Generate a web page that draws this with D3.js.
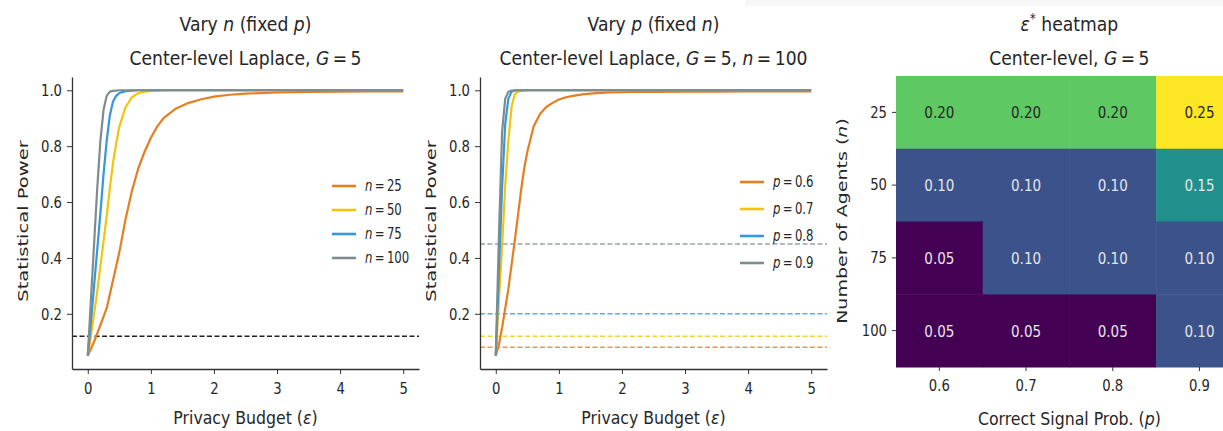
<!DOCTYPE html>
<html>
<head>
<meta charset="utf-8">
<script src="https://cdn.jsdelivr.net/npm/d3@7"></script>
<style>
  body { margin: 0; background: #fff; }
  text { font-family: "DejaVu Sans", sans-serif; fill: #262626; }
  .axis path, .axis line { stroke: #333; }
</style>
</head>
<body>
<div id="container"></div>
<script>
// epsilon grid shared by every curve
const eps = [0, 0.05, 0.1, 0.15, 0.2, 0.25, 0.3, 0.35, 0.4, 0.45, 0.5, 0.6, 0.7,
  0.8, 0.9, 1.0, 1.1, 1.2, 1.4, 1.6, 1.8, 2.0, 2.25, 2.5, 3.0, 3.5, 4.0, 4.5, 5.0];

// left panel: vary n
const nLabels = ['25', '50', '75', '100'];
const powerN25 = [0.05, 0.075, 0.10, 0.13, 0.16, 0.19, 0.22, 0.27, 0.32, 0.37, 0.42, 0.54, 0.64,
  0.72, 0.78, 0.83, 0.87, 0.90, 0.935, 0.955, 0.968, 0.977, 0.984, 0.988, 0.992, 0.994, 0.995, 0.996, 0.996];
const powerN50 = [0.05, 0.12, 0.20, 0.28, 0.37, 0.46, 0.55, 0.65, 0.74, 0.81, 0.87, 0.94, 0.975,
  0.99, 0.995, 0.998, 0.999, 1, 1, 1, 1, 1, 1, 1, 1, 1, 1, 1, 1];
const powerN75 = [0.05, 0.17, 0.30, 0.43, 0.56, 0.70, 0.82, 0.91, 0.96, 0.98, 0.99, 0.997, 0.999,
  1, 1, 1, 1, 1, 1, 1, 1, 1, 1, 1, 1, 1, 1, 1, 1];
const powerN100 = [0.05, 0.25, 0.45, 0.65, 0.82, 0.93, 0.98, 0.995, 0.998, 0.999, 1, 1, 1,
  1, 1, 1, 1, 1, 1, 1, 1, 1, 1, 1, 1, 1, 1, 1, 1];
const baselineN = 0.12;

// middle panel: vary p
const pLabels = ['0.6', '0.7', '0.8', '0.9'];
const powerP06 = [0.05, 0.09, 0.15, 0.22, 0.29, 0.375, 0.46, 0.55, 0.64, 0.72, 0.78, 0.87, 0.915,
  0.94, 0.955, 0.967, 0.974, 0.979, 0.986, 0.99, 0.992, 0.993, 0.994, 0.994, 0.995, 0.995, 0.996, 0.996, 0.996];
const powerP07 = [0.05, 0.25, 0.44, 0.66, 0.82, 0.94, 0.985, 0.995, 0.998, 0.999, 1, 1, 1,
  1, 1, 1, 1, 1, 1, 1, 1, 1, 1, 1, 1, 1, 1, 1, 1];
const powerP08 = [0.05, 0.35, 0.65, 0.88, 0.97, 0.995, 0.999, 1, 1, 1, 1, 1, 1,
  1, 1, 1, 1, 1, 1, 1, 1, 1, 1, 1, 1, 1, 1, 1, 1];
const powerP09 = [0.05, 0.48, 0.85, 0.97, 0.995, 0.999, 1, 1, 1, 1, 1, 1, 1,
  1, 1, 1, 1, 1, 1, 1, 1, 1, 1, 1, 1, 1, 1, 1, 1];
const baselineP = [0.08, 0.12, 0.20, 0.45];

// heatmap: rows n, columns p
const heatRows = ['25', '50', '75', '100'];
const heatCols = ['0.6', '0.7', '0.8', '0.9'];
const heatValues = [
  [0.20, 0.20, 0.20, 0.25],
  [0.10, 0.10, 0.10, 0.15],
  [0.05, 0.10, 0.10, 0.10],
  [0.05, 0.05, 0.05, 0.10],
];

const xTicks = [0, 1, 2, 3, 4, 5];
const yTicks = [0.2, 0.4, 0.6, 0.8, 1.0];
const colors = ['#e67e22', '#f1c40f', '#3498db', '#7f8c8d'];

const W = 1223, H = 431;
const SX = 0.82; // glyphs in the picture are narrower than they are tall
const TICK_SIZE = 16.5, TICK_SX = 0.8;

const svg = d3.select('#container').append('svg')
  .attr('width', W).attr('height', H);

svg.append('rect').attr('x', 745).attr('y', 0).attr('width', W - 745).attr('height', 6)
  .attr('fill', '#f7f7f7');

// text made of [string, italic] parts
function label(g, x, y, parts, opt) {
  const o = Object.assign({ size: 16, anchor: 'middle', sx: SX, rotate: 0, fill: '#262626' }, opt);
  let tr = 'translate(' + x + ',' + y + ') scale(' + o.sx + ',1)';
  if (o.rotate) tr += ' rotate(' + o.rotate + ')';
  const t = g.append('text')
    .attr('transform', tr)
    .attr('text-anchor', o.anchor)
    .style('font-size', o.size + 'px')
    .style('fill', o.fill);
  parts.forEach(p => {
    const s = t.append('tspan').text(p[0]);
    if (p[1]) s.style('font-style', 'italic');
    if (p[2]) s.attr('baseline-shift', p[2]).style('font-size', (o.size * 0.7) + 'px');
  });
  return t;
}

function squeezeTicks(axisG, dx) {
  axisG.selectAll('.tick text')
    .style('font-size', TICK_SIZE + 'px')
    .style('font-family', '"DejaVu Sans", sans-serif')
    .attr('fill', '#262626')
    .attr('transform', 'scale(' + TICK_SX + ',1)')
    .each(function () {
      if (dx !== undefined) d3.select(this).attr('x', dx / TICK_SX);
    });
}

function linePanel(x0, x1, series, names, sym, dashes, dashColors, title1, title2, legendY) {
  const x = d3.scaleLinear().domain([-0.25, 5.25]).range([x0, x1]);
  const y = d3.scaleLinear().domain([0.0025, 1.0475]).range([369, 77]);
  const g = svg.append('g');

  // dashed reference lines
  dashes.forEach((d, i) => {
    g.append('line')
      .attr('x1', x(-0.25)).attr('x2', x(5.25))
      .attr('y1', y(d)).attr('y2', y(d))
      .attr('stroke', dashColors[i])
      .attr('stroke-opacity', dashColors[i] === '#222' ? 1 : 0.8)
      .attr('stroke-width', 1.5)
      .attr('stroke-dasharray', '5,2.5');
  });

  const line = d3.line().x((d, i) => x(eps[i])).y(d => y(d));
  series.forEach((s, i) => {
    g.append('path').datum(s)
      .attr('d', line)
      .attr('fill', 'none')
      .attr('stroke', colors[i])
      .attr('stroke-width', 2.2)
      .attr('stroke-linejoin', 'round');
  });

  const ya = g.append('g').attr('class', 'axis')
    .attr('transform', 'translate(' + x0 + ',0)')
    .call(d3.axisLeft(y).tickValues(yTicks).tickFormat(d3.format('.1f'))
      .tickSizeInner(5).tickSizeOuter(0).tickPadding(5));
  squeezeTicks(ya, -10);
  const xa = g.append('g').attr('class', 'axis')
    .attr('transform', 'translate(0,369)')
    .call(d3.axisBottom(x).tickValues(xTicks).tickFormat(d3.format('d'))
      .tickSizeInner(5).tickSizeOuter(0).tickPadding(8));
  squeezeTicks(xa);
  g.selectAll('.axis .domain').attr('stroke-width', 1.3);

  const cx = (x0 + x1) / 2;
  label(g, cx, 31, title1, { size: 20, sx: 0.86 });
  label(g, cx, 65, title2, { size: 20, sx: 0.86 });
  label(g, cx, 424, [['Privacy Budget (', false], ['\u03b5', true], [')', false]], { size: 17.5, sx: 0.9 });
  label(g, x0 - 44, 221, [['Statistical Power', false]], { size: 19.5, sx: 0.72, rotate: -90 });

  // legend
  const lx = x1 - 87;
  names.forEach((n, i) => {
    const ly = legendY[i];
    g.append('line').attr('x1', lx).attr('x2', lx + 24)
      .attr('y1', ly).attr('y2', ly)
      .attr('stroke', colors[i]).attr('stroke-width', 2.6);
    label(g, lx + 33, ly + 5, [[sym, true], ['\u2009=\u2009' + n, false]],
      { size: 15, anchor: 'start', sx: 0.78 });
  });
}

linePanel(72, 419, [powerN25, powerN50, powerN75, powerN100], nLabels, 'n',
  [baselineN], ['#222'],
  [['Vary ', false], ['n', true], [' (fixed ', false], ['p', true], [')', false]],
  [['Center-level Laplace, ', false], ['G', true], ['\u2009=\u20095', false]],
  [186, 210, 234, 258]);

linePanel(480, 827, [powerP06, powerP07, powerP08, powerP09], pLabels, 'p',
  baselineP, colors,
  [['Vary ', false], ['p', true], [' (fixed ', false], ['n', true], [')', false]],
  [['Center-level Laplace, ', false], ['G', true], ['\u2009=\u20095, ', false], ['n', true], ['\u2009=\u2009100', false]],
  [182, 209, 236, 263]);

// heatmap
const hx = d3.scaleBand().domain(heatCols).range([896, 896 + 4 * 86.7]);
const hy = d3.scaleBand().domain(heatRows).range([76, 367]);
const color = d3.scaleSequential(d3.interpolateViridis).domain([0.05, 0.25]);
const hg = svg.append('g');
heatRows.forEach((r, i) => {
  heatCols.forEach((c, j) => {
    const v = heatValues[i][j];
    hg.append('rect')
      .attr('x', hx(c)).attr('y', hy(r))
      .attr('width', hx.bandwidth() + 0.5).attr('height', hy.bandwidth() + 0.5)
      .attr('fill', color(v));
    label(hg, hx(c) + hx.bandwidth() / 2, hy(r) + hy.bandwidth() / 2 + 6,
      [[d3.format('.2f')(v), false]],
      { size: 16.5, fill: v >= 0.2 ? '#262626' : '#e6e6e6' });
  });
});
const hya = hg.append('g').attr('class', 'axis')
  .attr('transform', 'translate(896,0)')
  .call(d3.axisLeft(hy).tickSizeInner(4).tickSizeOuter(0).tickPadding(4));
hya.select('.domain').remove();
squeezeTicks(hya, -9);
const hxa = hg.append('g').attr('class', 'axis')
  .attr('transform', 'translate(0,367)')
  .call(d3.axisBottom(hx).tickSizeInner(4).tickSizeOuter(0).tickPadding(8));
hxa.select('.domain').remove();
squeezeTicks(hxa);

const hcx = 896 + 2 * 86.7;
label(hg, hcx, 31, [['\u03b5', true], ['*', false, 'super'], [' heatmap', false]], { size: 20, sx: 0.86 });
label(hg, hcx, 65, [['Center-level, ', false], ['G', true], ['\u2009=\u20095', false]], { size: 20, sx: 0.86 });
label(hg, hcx, 425, [['Correct Signal Prob. (', false], ['p', true], [')', false]], { size: 17.5, sx: 0.9 });
label(hg, 847, 221, [['Number of Agents (', false], ['n', true], [')', false]], { size: 19, sx: 0.72, rotate: -90 });
</script>
</body>
</html>
